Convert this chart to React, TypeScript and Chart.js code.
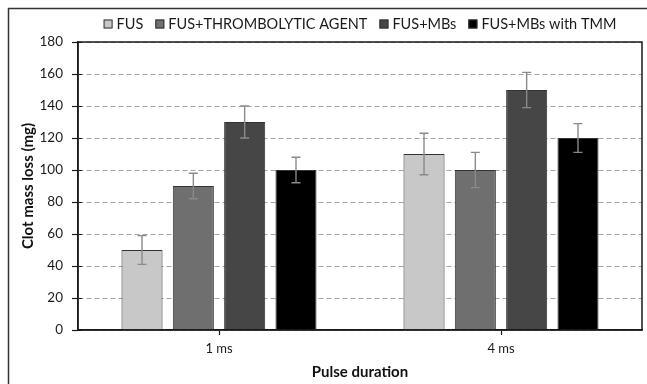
import React, { useEffect, useRef } from "react";
import { Chart, registerables } from "chart.js";

Chart.register(...registerables);

const categories = ["1 ms", "4 ms"];
const seriesLabels = ["FUS", "FUS+THROMBOLYTIC AGENT", "FUS+MBs", "FUS+MBs with TMM"];
const fusValues = [50, 110];
const thrombolyticValues = [90, 100];
const mbsValues = [130, 150];
const tmmValues = [100, 120];
const fusErrors = [9, 13];
const thrombolyticErrors = [8, 11];
const mbsErrors = [10, 11];
const tmmErrors = [8, 9];
const yMin = 0;
const yMax = 180;
const yStep = 20;
const xTitle = "Pulse duration";
const yTitle = "Clot mass loss (mg)";

const seriesColors = ["#c8c8c8", "#6f6f6f", "#464646", "#000000"];
const FONT = "Lato, 'Open Sans', sans-serif";
const TEXT = "#1a1a1a";

const valueSets = [fusValues, thrombolyticValues, mbsValues, tmmValues];
const errorSets = [fusErrors, thrombolyticErrors, mbsErrors, tmmErrors];

const errorBarPlugin = {
  id: "errorBars",
  afterDatasetsDraw(chart: any) {
    const ctx = chart.ctx;
    const y = chart.scales.y;
    chart.data.datasets.forEach((ds: any, i: number) => {
      const meta = chart.getDatasetMeta(i);
      const errs = errorSets[i];
      meta.data.forEach((bar: any, j: number) => {
        const v = ds.data[j];
        const e = errs[j];
        const x = bar.x;
        const yt = y.getPixelForValue(v + e);
        const yb = y.getPixelForValue(v - e);
        ctx.save();
        ctx.strokeStyle = "#8a8a8a";
        ctx.lineWidth = 1.4;
        ctx.beginPath();
        ctx.moveTo(x, yt);
        ctx.lineTo(x, yb);
        ctx.moveTo(x - 4.5, yt);
        ctx.lineTo(x + 4.5, yt);
        ctx.moveTo(x - 4.5, yb);
        ctx.lineTo(x + 4.5, yb);
        ctx.stroke();
        ctx.restore();
      });
    });
  },
};

const framePlugin = {
  id: "frames",
  afterDraw(chart: any) {
    const ctx = chart.ctx;
    const a = chart.chartArea;
    ctx.save();
    // plot frame
    ctx.strokeStyle = "#1a1a1a";
    ctx.lineWidth = 1.5;
    ctx.strokeRect(a.left, a.top, a.right - a.left, a.bottom - a.top);
    // inner part of y tick marks
    const ys = chart.scales.y;
    ctx.lineWidth = 1.2;
    ctx.beginPath();
    ys.ticks.forEach((t: any) => {
      const py = Math.round(ys.getPixelForValue(t.value)) + 0.5;
      ctx.moveTo(a.left, py);
      ctx.lineTo(a.left + 4, py);
    });
    ctx.stroke();
    // outer image frame (top and left only visible)
    ctx.strokeStyle = "#333333";
    ctx.lineWidth = 1.5;
    ctx.beginPath();
    ctx.moveTo(8.5, 400);
    ctx.lineTo(8.5, 8.5);
    ctx.lineTo(700, 8.5);
    ctx.stroke();
    ctx.restore();
  },
};

const legendPlugin = {
  id: "customLegend",
  afterDraw(chart: any) {
    const ctx = chart.ctx;
    const a = chart.chartArea;
    ctx.save();
    ctx.font = `14.5px ${FONT}`;
    const box = 9;
    const gap = 4;
    const itemGap = 12;
    const widths = chart.data.datasets.map((ds: any) => ctx.measureText(ds.label).width);
    const total =
      widths.reduce((s: number, w: number) => s + w + box + gap, 0) + itemGap * (widths.length - 1);
    let x = (a.left + a.right) / 2 - total / 2;
    const cy = 24;
    chart.data.datasets.forEach((ds: any, i: number) => {
      ctx.fillStyle = ds.backgroundColor;
      ctx.fillRect(x, cy - box / 2, box, box);
      ctx.strokeStyle = "#333";
      ctx.lineWidth = 1;
      ctx.strokeRect(x + 0.5, cy - box / 2 + 0.5, box - 1, box - 1);
      ctx.fillStyle = TEXT;
      ctx.textBaseline = "middle";
      ctx.textAlign = "left";
      ctx.fillText(ds.label, x + box + gap, cy + 0.5);
      x += box + gap + widths[i] + itemGap;
    });
    ctx.restore();
  },
};

export default function App() {
  const canvasRef = useRef<HTMLCanvasElement | null>(null);

  useEffect(() => {
    if (!canvasRef.current) return;
    const chart = new Chart(canvasRef.current, {
      type: "bar",
      data: {
        labels: categories,
        datasets: seriesLabels.map((label, i) => ({
          label,
          data: valueSets[i],
          backgroundColor: seriesColors[i],
          borderColor: "#333333",
          borderWidth: 1,
          categoryPercentage: 0.728,
          barPercentage: 0.8,
        })),
      },
      options: {
        responsive: false,
        animation: false,
        devicePixelRatio: 1,
        layout: { padding: { top: 42, left: 15, right: 5, bottom: 0 } },
        plugins: {
          legend: { display: false },
          tooltip: { enabled: false },
        },
        scales: {
          x: {
            grid: {
              display: true,
              drawOnChartArea: false,
              offset: false,
              tickLength: 5,
              tickColor: "#1a1a1a",
              tickWidth: 1.2,
            },
            border: { display: true, color: "#1a1a1a", width: 1.5 },
            ticks: {
              padding: 6,
              color: TEXT,
              font: { family: FONT, size: 13 },
            },
            title: {
              display: true,
              text: xTitle,
              color: "#111",
              font: { family: FONT, size: 15, weight: "bold" },
              padding: { top: 0, bottom: 3 },
            },
            afterFit(scale: any) {
              scale.height = 54;
            },
          },
          y: {
            min: yMin,
            max: yMax,
            ticks: {
              stepSize: yStep,
              padding: 9,
              color: TEXT,
              font: { family: FONT, size: 13.5 },
            },
            grid: {
              color: "#a3a3a3",
              lineWidth: 1,
              tickLength: 6,
              tickColor: "#1a1a1a",
              tickWidth: 1.2,
              tickBorderDash: [],
            },
            border: { display: true, color: "#1a1a1a", width: 1.5, dash: [5, 3] },
            title: {
              display: true,
              text: yTitle,
              color: "#111",
              font: { family: FONT, size: 15, weight: "bold" },
              padding: { top: 4, bottom: 0 },
            },
            afterFit(scale: any) {
              scale.width = 63;
            },
          },
        },
      },
      plugins: [errorBarPlugin, framePlugin, legendPlugin],
    });
    return () => chart.destroy();
  }, []);

  return (
    <div style={{ position: "absolute", left: 0, top: 0, width: 647, height: 384, background: "#fff" }}>
      <canvas ref={canvasRef} width={647} height={384} style={{ display: "block" }} />
    </div>
  );
}
